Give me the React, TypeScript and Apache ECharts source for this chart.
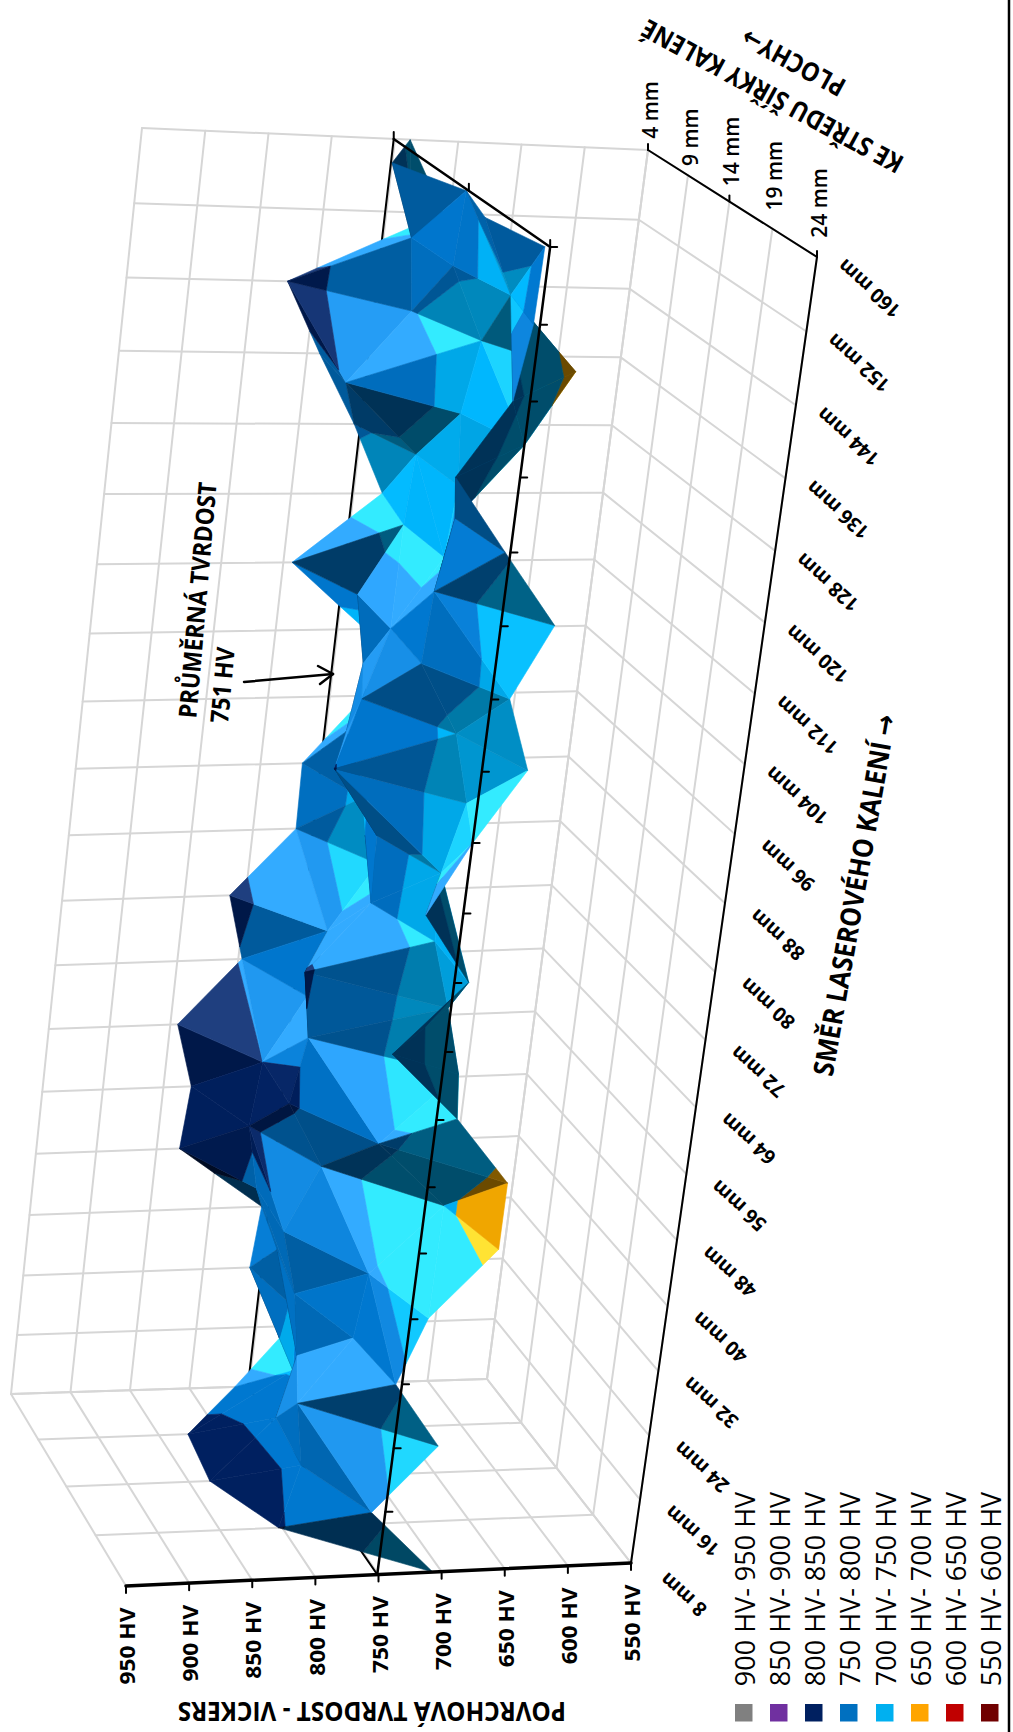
import React, { useEffect, useRef } from "react";
import * as echarts from "echarts";

const lengthLabels = ["8 mm","16 mm","24 mm","32 mm","40 mm","48 mm","56 mm","64 mm","72 mm","80 mm","88 mm","96 mm","104 mm","112 mm","120 mm","128 mm","136 mm","144 mm","152 mm","160 mm"];
const depthLabels = ["4 mm","9 mm","14 mm","19 mm","24 mm"];
const hardnessTicks = [950,900,850,800,750,700,650,600,550];
const averageHardness = 751;
const depth4 = [762,721,761,757,831,827,844,797,813,765,766,721,728,793,727,756,790,822,705,738];
const depth9 = [826,745,748,770,793,805,800,770,760,726,745,764,757,768,738,735,797,752,759,781];
const depth14 = [833,785,774,782,797,773,805,796,805,759,761,801,786,770,735,731,736,727,756,753];
const depth19 = [803,791,800,762,756,703,761,705,720,737,739,726,741,775,772,763,717,685,742,769];
const depth24 = [707,762,716,756,737,689,689,735,792,740,780,751,716,737,710,755,800,764,756,755];
const rows = [depth4, depth9, depth14, depth19, depth24];
const legendLabels = ["900 HV- 950 HV","850 HV- 900 HV","800 HV- 850 HV","750 HV- 800 HV","700 HV- 750 HV","650 HV- 700 HV","600 HV- 650 HV","550 HV- 600 HV"];
const legendColors = ["#808080","#7030A0","#002060","#0070C0","#00B0F0","#FFA500","#C00000","#700000"];
const bandLows = [900,850,800,750,700,650,600,550];
const surfaceColors = ["#808080","#7030A0","#002060","#0078D0","#00B8FF","#FFB000","#C00000","#700000"];
const mainFoldCells = ["8,2","16,1","7,3","6,3","0,2","17,0","12,0","13,0"];
const antiFoldCells = ["10,2"];
const facetShadeOverrides: Record<string, number> = {"13,0|13,1|14,1":-0.5,"12,0|13,0|13,1":-0.02,"0,0|0,1|1,1":0,"0,1|1,1|1,2":0,"0,1|0,2|1,2":0,"0,2|1,2|1,3":0};

type Pt = [number, number];
function homography(q: Pt[]) {
  const [[x0,y0],[x1,y1],[x2,y2],[x3,y3]] = q;
  const dx1=x1-x2, dx2=x3-x2, sx=x0-x1+x2-x3, dy1=y1-y2, dy2=y3-y2, sy=y0-y1+y2-y3;
  const den=dx1*dy2-dx2*dy1, g=(sx*dy2-dx2*sy)/den, h=(dx1*sy-sx*dy1)/den;
  const a=x1-x0+g*x1, b=x3-x0+h*x3, d=y1-y0+g*y1, e=y3-y0+h*y3;
  return (u:number,v:number):Pt=>{const w=g*u+h*v+1;return [(a*u+b*v+x0)/w,(d*u+e*v+y0)/w];};
}
const floorMap = homography([[487,1379],[648,150],[817,257],[631,1563]]);
const topMap = homography([[11,1394],[142,128],[286,237],[126,1586]]);
function project(i:number,j:number,hv:number):Pt{
  const u=i/19,v=j/4,t=(hv-550)/400;
  const a=floorMap(u,v),b=topMap(u,v);
  return [a[0]+(b[0]-a[0])*t,a[1]+(b[1]-a[1])*t];
}
type V=[number,number,number];
function clip(poly:V[],level:number,keepAbove:boolean):V[]{
  const out:V[]=[];
  const inside=(p:V)=>keepAbove?p[2]>=level:p[2]<=level;
  for(let k=0;k<poly.length;k++){
    const p=poly[k],q=poly[(k+1)%poly.length];
    if(inside(p))out.push(p);
    if(inside(p)!==inside(q)){
      const t=(level-p[2])/(q[2]-p[2]);
      out.push([p[0]+(q[0]-p[0])*t,p[1]+(q[1]-p[1])*t,level]);
    }
  }
  return out;
}
function shadeColor(hex:string,s:number){
  const n=parseInt(hex.slice(1),16);
  const c=[(n>>16)&255,(n>>8)&255,n&255].map(v=>s>=0?Math.min(255,v+s*255):v*(1+s));
  return `rgb(${c.map(Math.round).join(",")})`;
}
function cross(t:V[],z:(v:V)=>Pt){
  const a=z(t[0]),b=z(t[1]),c=z(t[2]);
  return (b[0]-a[0])*(c[1]-a[1])-(b[1]-a[1])*(c[0]-a[0]);
}
function triShade(t:V[]){
  const key=t.map(v=>`${v[0]},${v[1]}`).sort().join("|");
  if(key in facetShadeOverrides)return facetShadeOverrides[key];
  const [a,b,c]=t;
  const ux=b[0]-a[0],uy=b[1]-a[1],uh=b[2]-a[2],vx=c[0]-a[0],vy=c[1]-a[1],vh=c[2]-a[2];
  const det=ux*vy-uy*vx;
  const di=(uh*vy-uy*vh)/det, dj=(ux*vh-uh*vx)/det;
  const flipped=cross(t,v=>project(v[0],v[1],v[2]))*cross(t,v=>project(v[0],v[1],550))<0;
  if(flipped)return -0.58;
  const s=-0.007*di+0.002*dj-0.03;
  return Math.max(-0.62,Math.min(0.2,s));
}
type Face={pts:Pt[];fill:string};
function buildFaces():Face[]{
  const faces:Face[]=[];
  const addTri=(tri:V[])=>{
    const s=triShade(tri);
    bandLows.slice().reverse().forEach(lo=>{
      const idx=bandLows.indexOf(lo);
      const sb=lo===800&&s>0?s*0.6:s;
      let poly=clip(tri,lo,true);
      if(poly.length)poly=clip(poly,lo+50,false);
      if(poly.length>2)faces.push({pts:poly.map(p=>project(p[0],p[1],p[2])),fill:shadeColor(surfaceColors[idx],sb)});
    });
  };
  for(let j=0;j<4;j++)for(let i=0;i<19;i++){
    const a:V=[i,j,rows[j][i]],b:V=[i+1,j,rows[j][i+1]],c:V=[i+1,j+1,rows[j+1][i+1]],d:V=[i,j+1,rows[j+1][i]];
    const cell=`${i},${j}`;
    const main=!antiFoldCells.includes(cell)&&(Math.abs(a[2]-c[2])<=Math.abs(b[2]-d[2])||mainFoldCells.includes(cell));
    if(main){addTri([a,b,c]);addTri([a,d,c]);}
    else{addTri([a,b,d]);addTri([b,d,c]);}
  }
  return faces;
}
type Seg={a:Pt;b:Pt;c:string;w:number};
const GRID="#d6d6d6";
function gridSegs():Seg[]{
  const s:Seg[]=[];
  const L=(a:Pt,b:Pt)=>s.push({a,b,c:GRID,w:2});
  hardnessTicks.forEach(h=>{L(project(0,0,h),project(19,0,h));L(project(0,0,h),project(0,4,h));});
  lengthLabels.forEach((_,i)=>{L(project(i,0,550),project(i,0,950));L(project(i,0,550),project(i,4,550));});
  depthLabels.forEach((_,j)=>{L(project(0,j,550),project(19,j,550));L(project(0,j,550),project(0,j,950));});
  const av=averageHardness;
  s.push({a:project(0,0,av),b:project(19,0,av),c:"#000",w:2});
  s.push({a:project(0,0,av),b:project(0,4,av),c:"#000",w:2});
  return s;
}
function frontSegs():Seg[]{
  const s:Seg[]=[];
  const K=(a:Pt,b:Pt,w=2)=>s.push({a,b,c:"#000",w});
  const av=averageHardness;
  K(project(0,4,550),project(19,4,550));
  K(project(19,0,550),project(19,4,550));
  K(project(0,4,950),project(0,4,550),3.5);
  K(project(0,4,av),project(19,4,av),2.5);
  K(project(19,0,av),project(19,4,av),2.5);
  hardnessTicks.forEach(h=>{const p=project(0,4,h);K(p,[p[0],p[1]+7]);});
  [0,2,4].forEach(j=>{const p=project(19,j,550);K(p,[p[0],p[1]-6]);const q=project(19,j,av);K(q,[q[0],q[1]-7]);});
  lengthLabels.forEach((_,i)=>{const p=project(i,4,av);K(p,[p[0]+7,p[1]]);});
  K([244,682],[333,674],2.5);K([318,666],[333,674],2.5);K([320,684],[333,674],2.5);
  K([1009,0],[1009,1732],2.5);
  return s;
}
const FONT='"Open Sans","DejaVu Sans",sans-serif';
function label(text:string,x:number,y:number,rot:number,size:number,weight:string|number="bold",sx=1){
  return {type:"text",x,y,rotation:rot*Math.PI/180,scaleX:sx,z:50,style:{text,x:0,y:0,fill:"#000",font:`${weight} ${size}px ${FONT}`,align:"center",verticalAlign:"middle"}};
}
function buildGraphic(){
  const g:any[]=[];
  hardnessTicks.forEach(h=>{const p=project(0,4,h);g.push(label(`${h} HV`,p[0]+1,p[1]+60,90,21,"bold",1.08));});
  depthLabels.forEach((t,j)=>{const p=project(19,j,550);g.push(label(t,p[0]+2,p[1]-[40,38,50,53,54][j],90,21,600));});
  lengthLabels.forEach((t,i)=>{const p=project(i,4,550);g.push(label(t,p[0]+52,p[1]+32,138,20,"bold",0.97));});
  g.push(label("POVRCHOVÁ TVRDOST - VICKERS",372,1712,180,27,"bold",0.9));
  g.push(label("SMĚR LASEROVÉHO KALENÍ →",854,895,80,28,"bold",0.9));
  g.push(label("KE STŘEDU ŠÍŘKY KALENÉ",772,97,151.5,26,"bold",0.9));
  g.push(label("PLOCHY→",793,63,151.5,26,"bold",0.9));
  g.push(label("PRŮMĚRNÁ TVRDOST",197,600,85,25,"bold",0.9));
  g.push(label("751 HV",222,685,85,25,"bold",0.9));
  const cols=[744,779,814,849,885,920,955,990];
  legendLabels.forEach((t,k)=>{
    g.push(label(t,cols[k],1589,90,27,400));
    g.push({type:"rect",z:50,shape:{x:cols[k]-9,y:1704,width:17.5,height:17.5},style:{fill:legendColors[k]}});
  });
  return g;
}
function segSeries(segs:Seg[],z:number){
  return {type:"custom",coordinateSystem:"cartesian2d",z,silent:true,clip:false,
    data:segs.map((s,k)=>[s.a[0],s.a[1],k]),
    renderItem:(p:any,api:any)=>{const s=segs[p.dataIndex];const a=api.coord(s.a),b=api.coord(s.b);
      return {type:"line",shape:{x1:a[0],y1:a[1],x2:b[0],y2:b[1]},style:{stroke:s.c,lineWidth:s.w,lineCap:"round"}};}};
}
export default function App(){
  const ref=useRef<HTMLDivElement>(null);
  useEffect(()=>{
    document.body.style.margin="0";
    const chart=echarts.init(ref.current!,undefined,{renderer:"svg"});
    const faces=buildFaces();
    chart.setOption({
      animation:false,backgroundColor:"#fff",
      grid:{left:0,right:0,top:0,bottom:0},
      xAxis:{type:"value",min:0,max:1013,show:false},
      yAxis:{type:"value",min:0,max:1732,inverse:true,show:false},
      graphic:buildGraphic(),
      series:[
        segSeries(gridSegs(),1),
        {type:"custom",coordinateSystem:"cartesian2d",z:2,silent:true,clip:false,
          data:faces.map((f,k)=>[f.pts[0][0],f.pts[0][1],k]),
          renderItem:(p:any,api:any)=>{const f=faces[p.dataIndex];
            return {type:"polygon",shape:{points:f.pts.map(q=>api.coord(q))},style:{fill:f.fill,stroke:f.fill,lineWidth:0.6}};}},
        segSeries(frontSegs(),3),
      ],
    });
    return ()=>chart.dispose();
  },[]);
  return <div ref={ref} style={{position:"absolute",left:0,top:0,width:1013,height:1732}}/>;
}
